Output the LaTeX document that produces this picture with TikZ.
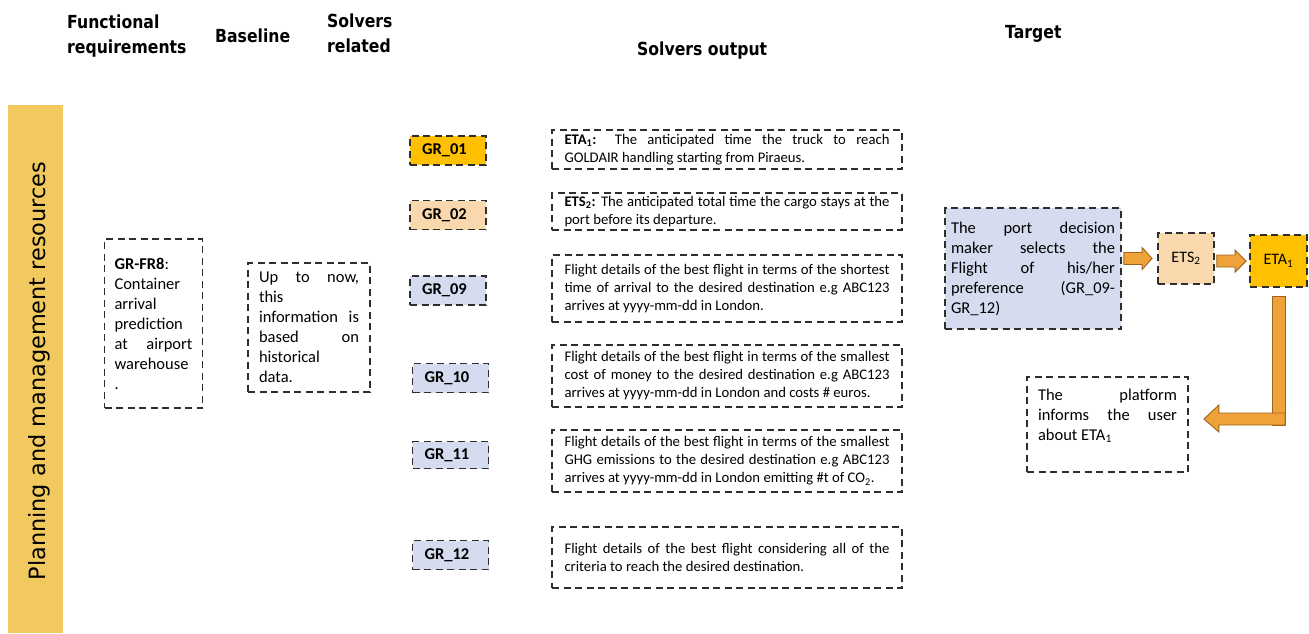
\documentclass[tikz,border=0pt]{standalone}
\usepackage{fontspec}
\setmainfont{Carlito}
\newfontfamily\hdfont[FakeStretch=0.87]{DejaVu Sans}
\newfontfamily\sidefont{DejaVu Sans}
\usetikzlibrary{calc}

\definecolor{barfill}{HTML}{F2C95E}
\definecolor{goldfill}{HTML}{FFC000}
\definecolor{peachfill}{HTML}{F9D8AE}
\definecolor{bluefill}{HTML}{D6DCEF}
\definecolor{dashc}{HTML}{2E2E2E}
\definecolor{arrowfill}{HTML}{EFA23A}
\definecolor{arrowline}{HTML}{A0651A}

\begin{document}
\begin{tikzpicture}[x=1pt,y=-1pt,
  dbox/.style={draw=dashc, line width=1.8pt, dash pattern=on 7pt off 4.5pt, inner ysep=0pt},
  head/.style={font=\hdfont\bfseries\fontsize{18pt}{25pt}\selectfont, inner sep=0pt, align=left},
  grlabel/.style={dbox, font=\bfseries\fontsize{16.5pt}{20pt}\selectfont, text width=52pt, align=left,
    inner xsep=12pt, minimum height=29pt},
  outbox/.style={dbox, font=\fontsize{14.7pt}{18pt}\selectfont, text width=325pt, align=justify,
    inner xsep=12.5pt},
  bigtext/.style={font=\fontsize{16.5pt}{20pt}\selectfont, align=justify},
  barrow/.style={fill=arrowfill, draw=arrowline, line width=0.9pt, line join=miter}
]
\useasboundingbox (0,0) rectangle (1309,633);
\fill[white] (0,0) rectangle (1309,633);

% column headings (base anchor sits on the last line)
\node[head, anchor=base west] (hfr)  at (67,53)   {Functional\\requirements};
\node[head, anchor=base west] (hbl)  at (215,42)  {Baseline};
\node[head, anchor=base west] (hsr)  at (327,52)  {Solvers\\related};
\node[head, anchor=base west] (hso)  at (637,55)  {Solvers output};
\node[head, anchor=base west] (htg)  at (1005,38) {Target};

% side band
\fill[barfill] (8,105) rectangle (63,633);
\node[font=\sidefont\fontsize{22.4pt}{25pt}\selectfont, rotate=90, inner sep=0pt] (side) at (39.5,371)
  {Planning and management resources};

% functional requirement and baseline
\node[dbox, bigtext, text width=78pt, inner xsep=10pt, minimum height=169pt] (fr) at (153.5,323.5)
  {\textbf{GR-FR8}:\\ Container\\ arrival\\ prediction\\ at airport\linebreak warehouse\\ .};
\node[dbox, bigtext, text width=100pt, inner xsep=11pt, minimum height=129pt] (bl) at (309,327.5)
  {Up to now,\linebreak this\\ information is\linebreak based on\linebreak historical\\ data.};

% solvers
\node[grlabel, fill=goldfill]  (g01) at (448,150.5) {GR\_01};
\node[grlabel, fill=peachfill] (g02) at (448,215)   {GR\_02};
\node[grlabel, fill=bluefill]  (g09) at (448,290.5) {GR\_09};
\node[grlabel, fill=bluefill]  (g10) at (450.5,378) {GR\_10};
\node[grlabel, fill=bluefill, minimum height=27pt] (g11) at (450.5,455) {GR\_11};
\node[grlabel, fill=bluefill]  (g12) at (450.5,555) {GR\_12};

% solver outputs
\node[outbox, minimum height=39pt] (o01) at (727,149.5)
  {\textbf{ETA\textsubscript{1}:} The anticipated time the truck to reach\linebreak GOLDAIR handling starting from Piraeus.};
\node[outbox, minimum height=37pt] (o02) at (727,211.5)
  {\textbf{ETS\textsubscript{2}:} The anticipated total time the cargo stays at the\linebreak port before its departure.};
\node[outbox, minimum height=67pt] (o09) at (727,288.5)
  {Flight details of the best flight in terms of the shortest\linebreak time of arrival to the desired destination e.g ABC123\linebreak arrives at yyyy-mm-dd in London.};
\node[outbox, minimum height=62pt] (o10) at (727,376)
  {Flight details of the best flight in terms of the smallest\linebreak cost of money to the desired destination e.g ABC123\linebreak arrives at yyyy-mm-dd in London and costs \# euros.};
\node[outbox, minimum height=62pt] (o11) at (727,461)
  {Flight details of the best flight in terms of the smallest\linebreak GHG emissions to the desired destination e.g ABC123\linebreak arrives at yyyy-mm-dd in London emitting \#t of CO\textsubscript{2}.};
\node[outbox, minimum height=61pt] (o12) at (727,557.5)
  {Flight details of the best flight considering all of the\linebreak criteria to reach the desired destination.};

% target flow
\node[dbox, bigtext, fill=bluefill, text width=164pt, inner xsep=6pt, minimum height=121pt] (port) at (1033,268.5)
  {The port decision\linebreak maker selects the\linebreak Flight of his/her\linebreak preference (GR\_09-\linebreak GR\_12)};
\node[dbox, fill=peachfill, font=\fontsize{16pt}{19pt}\selectfont, minimum width=56pt, minimum height=51pt, inner xsep=0pt] (ets) at (1186,258.5)
  {ETS\textsubscript{2}};
\node[dbox, fill=goldfill, font=\fontsize{16pt}{19pt}\selectfont, minimum width=57pt, minimum height=52pt, inner xsep=0pt] (eta) at (1278.5,261)
  {ETA\textsubscript{1}};
\node[dbox, bigtext, text width=139pt, inner xsep=11pt, minimum height=95pt] (plat) at (1107.5,424.5)
  {The platform\linebreak informs the user\linebreak about ETA\textsubscript{1}\\ \mbox{}};

% block arrows
\draw[barrow] let \p1=(port.east), \p2=(ets.west) in
  (\x1+2,\y2+6) -- (\x2-15,\y2+6) -- (\x2-15,\y2+11) -- (\x2-5,\y2)
  -- (\x2-15,\y2-11) -- (\x2-15,\y2-6) -- (\x1+2,\y2-6) -- cycle;
\draw[barrow] let \p1=(ets.east), \p2=(eta.west) in
  (\x1+2,\y2+6) -- (\x2-14,\y2+6) -- (\x2-14,\y2+11) -- (\x2-3,\y2)
  -- (\x2-14,\y2-11) -- (\x2-14,\y2-6) -- (\x1+2,\y2-6) -- cycle;
\draw[barrow] let \p1=(eta.south), \p2=(plat.east) in
  (\x1-6.5,\y1-9) rectangle (\x1+6.5,\y2-0.5);
\draw[barrow] let \p1=(eta.south), \p2=(plat.east) in
  (\x1+6.5,\y2+11.5) -- (\x2+30,\y2+11.5) -- (\x2+30,\y2+19.5) -- (\x2+15,\y2+5.5)
  -- (\x2+30,\y2-7.5) -- (\x2+30,\y2-0.5) -- (\x1+6.5,\y2-0.5) -- cycle;
\end{tikzpicture}
\end{document}
